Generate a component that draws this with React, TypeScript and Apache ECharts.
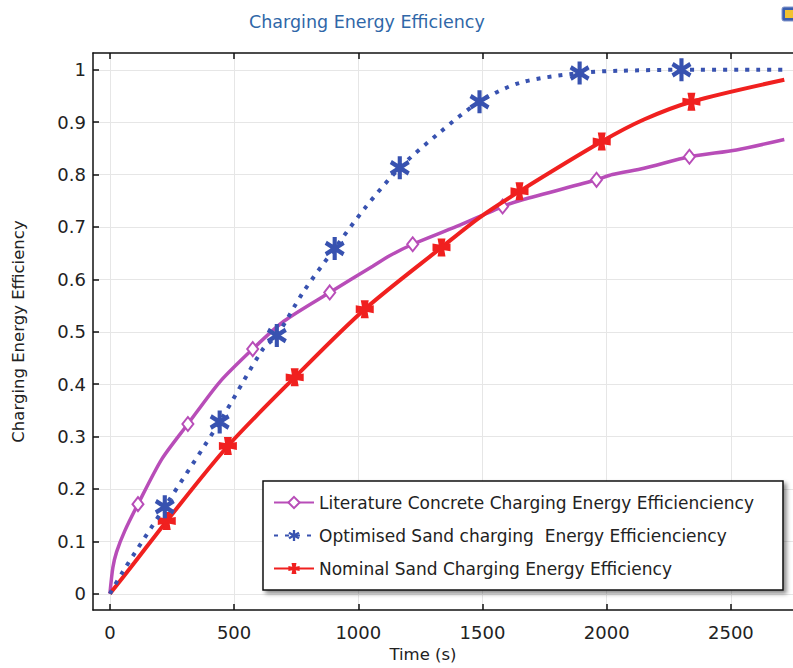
import React, { useEffect, useRef } from "react";
import * as echarts from "echarts";

// ---- data ----
const xTicks = [0, 500, 1000, 1500, 2000, 2500];
const yTicks = [0, 0.1, 0.2, 0.3, 0.4, 0.5, 0.6, 0.7, 0.8, 0.9, 1];

const seriesNames = [
  "Literature Concrete Charging Energy Efficienciency",
  "Optimised Sand charging  Energy Efficienciency",
  "Nominal Sand Charging Energy Efficiency",
];

// Literature concrete: curve points and marker points
const litCurveT = [0, 12, 27, 60, 209, 442, 700, 1058, 1126, 1396, 1661, 2023, 2150, 2522, 2715];
const litCurveV = [0, 0.05, 0.08, 0.12, 0.257, 0.404, 0.52, 0.625, 0.645, 0.701, 0.752, 0.8, 0.812, 0.847, 0.867];
const litMarkT = [113, 314, 575, 885, 1219, 1581, 1959, 2333];
const litMarkV = [0.171, 0.324, 0.467, 0.575, 0.667, 0.739, 0.79, 0.834];

// Optimised sand
const optCurveT = [0, 52, 616, 780, 1030, 1327, 1650, 2050, 2715];
const optCurveV = [0, 0.042, 0.467, 0.577, 0.738, 0.88, 0.975, 0.998, 1.0];
const optMarkT = [221, 442, 672, 905, 1167, 1488, 1891, 2301];
const optMarkV = [0.166, 0.328, 0.493, 0.659, 0.813, 0.939, 0.994, 1.0];

// Nominal sand
const nomCurveT = [0, 100, 1488, 2150, 2715];
const nomCurveV = [0, 0.06, 0.718, 0.905, 0.981];
const nomMarkT = [229, 475, 744, 1026, 1335, 1649, 1980, 2341];
const nomMarkV = [0.139, 0.282, 0.413, 0.543, 0.661, 0.768, 0.863, 0.939];

// ---- marker shapes ----
function barPath(angleDeg: number, L: number, w: number) {
  const a = (angleDeg * Math.PI) / 180;
  const dx = Math.cos(a), dy = Math.sin(a);
  const nx = -dy, ny = dx;
  const c = 50;
  const p = [
    [c - L * dx - w * nx, c - L * dy - w * ny],
    [c + L * dx - w * nx, c + L * dy - w * ny],
    [c + L * dx + w * nx, c + L * dy + w * ny],
    [c - L * dx + w * nx, c - L * dy + w * ny],
  ];
  return "M" + p.map((q) => q[0].toFixed(2) + "," + q[1].toFixed(2)).join("L") + "Z";
}
const ASTERISK = "path://" + [barPath(90, 50, 10), barPath(30, 50, 10), barPath(-30, 50, 10)].join(" ");
const CROSS =
  "path://M28,0L72,0L66,34L100,28L100,72L66,66L72,100L28,100L34,66L0,72L0,28L34,34Z";

function merge(ct: number[], cv: number[], mt: number[], mv: number[]) {
  const pts: { value: number[]; symbol?: string }[] = [];
  ct.forEach((t, i) => pts.push({ value: [t, cv[i]], symbol: "none" }));
  mt.forEach((t, i) => pts.push({ value: [t, mv[i]] }));
  pts.sort((a, b) => a.value[0] - b.value[0]);
  return pts;
}

const FONT = "DejaVu Sans";

export default function App() {
  const ref = useRef<HTMLDivElement>(null);
  useEffect(() => {
    if (!ref.current) return;
    const chart = echarts.init(ref.current, null, { renderer: "svg" });
    const axisLineStyle = { color: "#111", width: 1.5 };
    chart.setOption({
      animation: false,
      backgroundColor: "#fff",
      title: {
        text: "Charging Energy Efficiency",
        left: 244,
        top: 8,
        textStyle: { color: "#2f67a8", fontSize: 17.5, fontWeight: "normal", fontFamily: FONT },
      },
      grid: { left: 93, right: 0, top: 53, bottom: 57 },
      legend: {
        orient: "vertical",
        left: 263,
        top: 481,
        padding: [13, 29, 13, 10],
        itemGap: 16,
        itemWidth: 40,
        itemHeight: 14,
        backgroundColor: "#fff",
        borderColor: "#111",
        borderWidth: 1.5,
        shadowColor: "rgba(0,0,0,0.45)",
        shadowBlur: 4,
        shadowOffsetX: 3,
        shadowOffsetY: 3,
        textStyle: { fontSize: 17, color: "#222", fontFamily: FONT },
        data: seriesNames,
      },
      xAxis: [
        {
          type: "value",
          min: -68,
          max: 2750,
          position: "bottom",
          name: "Time (s)",
          nameLocation: "middle",
          nameGap: 36,
          nameTextStyle: { fontSize: 16.5, color: "#222", fontFamily: FONT, padding: [0, 40, 0, 0] },
          axisLine: { show: true, onZero: false, lineStyle: axisLineStyle },
          axisTick: { show: true, inside: true, length: 6, customValues: xTicks, lineStyle: axisLineStyle },
          axisLabel: {
            customValues: xTicks,
            margin: 13,
            fontSize: 18,
            color: "#222",
            fontFamily: FONT,
            formatter: (v: number) => String(v),
          },
          splitLine: { show: true, lineStyle: { color: "#e6e6e6", width: 1 } },
        },
        {
          type: "value",
          min: -68,
          max: 2750,
          position: "top",
          axisLine: { show: true, onZero: false, lineStyle: axisLineStyle },
          axisTick: { show: true, inside: true, length: 6, customValues: xTicks, lineStyle: axisLineStyle },
          axisLabel: { show: false },
          splitLine: { show: false },
        },
      ],
      yAxis: {
        type: "value",
        min: -0.031,
        max: 1.032,
        name: "Charging Energy Efficiency",
        nameLocation: "middle",
        nameGap: 66,
        nameTextStyle: { fontSize: 16.5, color: "#222", fontFamily: FONT },
        axisLine: { show: true, onZero: false, lineStyle: axisLineStyle },
        axisTick: { show: true, inside: true, length: 6, customValues: yTicks, lineStyle: axisLineStyle },
        axisLabel: {
          customValues: yTicks,
          margin: 7,
          fontSize: 18,
          color: "#222",
          fontFamily: FONT,
          formatter: (v: number) => String(Math.round(v * 10) / 10),
        },
        splitLine: { show: true, lineStyle: { color: "#e6e6e6", width: 1 } },
      },
      graphic: [
        {
          type: "rect",
          shape: { x: 782, y: 7, width: 14, height: 14, r: 2 },
          style: { fill: "#3b5fb0", stroke: "#8899cc", lineWidth: 1 },
        },
        {
          type: "rect",
          shape: { x: 785, y: 10, width: 8, height: 8 },
          style: { fill: "#f2c230" },
        },
      ],
      series: [
        {
          name: seriesNames[0],
          type: "line",
          smooth: 0.25,
          showAllSymbol: true,
          symbol: "emptyDiamond",
          symbolSize: [11, 14],
          itemStyle: { color: "#b84db8", borderWidth: 1.5 },
          lineStyle: { color: "#b84db8", width: 3.5 },
          data: merge(litCurveT, litCurveV, litMarkT, litMarkV),
          z: 2,
        },
        {
          name: seriesNames[1],
          type: "line",
          smooth: 0.3,
          showAllSymbol: true,
          symbol: ASTERISK,
          symbolSize: [20, 23],
          itemStyle: { color: "#3852b0" },
          lineStyle: { color: "#3852b0", width: 4, type: [4, 7] },
          data: merge(optCurveT, optCurveV, optMarkT, optMarkV),
          z: 4,
        },
        {
          name: seriesNames[2],
          type: "line",
          smooth: 0.3,
          showAllSymbol: true,
          symbol: CROSS,
          symbolSize: 18,
          itemStyle: { color: "#f0201f" },
          lineStyle: { color: "#f0201f", width: 4 },
          data: merge(nomCurveT, nomCurveV, nomMarkT, nomMarkV),
          z: 3,
        },
      ],
    });
    return () => chart.dispose();
  }, []);
  return (
    <div
      ref={ref}
      style={{ position: "fixed", left: 0, top: 0, width: 793, height: 668, background: "#fff" }}
    />
  );
}
